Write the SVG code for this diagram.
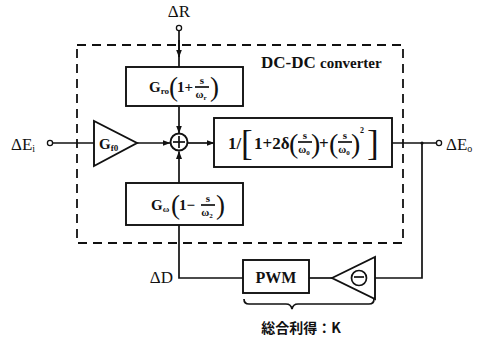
<svg xmlns="http://www.w3.org/2000/svg" width="484" height="339" viewBox="0 0 484 339">
<style>
.ln{fill:none;stroke:#111;stroke-width:1.7}
.bx{fill:#fff;stroke:#111;stroke-width:1.9}
.dash{fill:none;stroke:#111;stroke-width:1.8;stroke-dasharray:9,6}
.t{font-family:"Liberation Serif","Times New Roman",serif;fill:#111}
.m{font-family:"Liberation Serif","Times New Roman",serif;fill:#111;font-weight:bold}
.j{font-family:"Noto Sans CJK JP","Noto Sans CJK SC",sans-serif;fill:#111;font-weight:bold}
.port{fill:#fff;stroke:#111;stroke-width:1.3}
</style>
<defs>
<marker id="ah" markerWidth="8" markerHeight="6" refX="7.5" refY="3" orient="auto" markerUnits="userSpaceOnUse">
<path d="M0,0 L8,3 L0,6 z" fill="#111"/>
</marker>
</defs>
<rect width="484" height="339" fill="#fff"/>

<g id="boundary">
<rect class="dash" x="77" y="45" width="326" height="198"/>
<text class="t" x="261" y="68" font-size="17" font-weight="bold">DC-DC <tspan font-size="15">converter</tspan></text>
</g>

<g id="connectors">
<line class="ln" x1="179" y1="30.5" x2="179" y2="67"/>
<line class="ln" x1="179" y1="40" x2="179" y2="57" marker-end="url(#ah)"/>
<line class="ln" x1="179" y1="106" x2="179" y2="133" marker-end="url(#ah)"/>
<line class="ln" x1="179" y1="183" x2="179" y2="151.5" marker-end="url(#ah)"/>
<line class="ln" x1="52.5" y1="143" x2="94" y2="143"/>
<line class="ln" x1="137" y1="143" x2="170" y2="143" marker-end="url(#ah)"/>
<line class="ln" x1="188" y1="143" x2="214" y2="143" marker-end="url(#ah)"/>
<line class="ln" x1="392" y1="143" x2="436.5" y2="143"/>
<polyline class="ln" points="422,143 422,278 375,278"/>
<line class="ln" x1="332" y1="278" x2="309" y2="278"/>
<polyline class="ln" points="179,225 179,278 243,278"/>
<circle cx="422" cy="143" r="1.6" fill="#111"/>
</g>

<g id="in-R">
<circle class="port" cx="179" cy="28" r="2.6"/>
<text class="t" x="179" y="17" font-size="17" text-anchor="middle">ΔR</text>
</g>

<g id="in-Ei">
<circle class="port" cx="50" cy="143" r="2.6"/>
<text class="t" x="11" y="150" font-size="17">ΔE<tspan font-size="10" dy="2">i</tspan></text>
</g>

<g id="out-Eo">
<circle class="port" cx="439" cy="143" r="2.6"/>
<text class="t" x="446" y="150" font-size="17">ΔE<tspan font-size="10" dy="2">o</tspan></text>
</g>

<g id="label-D">
<text class="t" x="173" y="283" font-size="17" text-anchor="end">ΔD</text>
</g>

<g id="Gf0">
<polygon class="bx" points="94,121 94,166 137,143"/>
<text class="m" x="99" y="149" font-size="15">G<tspan font-size="9" dy="2">f0</tspan></text>
</g>

<g id="sum">
<circle class="bx" cx="179" cy="142" r="8.5"/>
<line class="ln" x1="173" y1="142" x2="185" y2="142"/>
<line class="ln" x1="179" y1="136" x2="179" y2="148"/>
</g>

<g id="Gr">
<rect class="bx" x="126" y="67" width="117" height="39"/>
<text class="m" x="149" y="92" font-size="15">G<tspan font-size="9" dy="2">ro</tspan></text>
<text class="t" x="169" y="96" font-size="27">(</text>
<text class="m" x="177" y="92" font-size="15">1+</text>
<text class="m" x="202" y="84" font-size="11" text-anchor="middle">s</text>
<line class="ln" x1="195" y1="87" x2="209" y2="87" stroke-width="1"/>
<text class="m" x="201" y="98" font-size="11" text-anchor="middle">ω<tspan font-size="7" dy="1.5">r</tspan></text>
<text class="t" x="210" y="96" font-size="27">)</text>
</g>

<g id="Gw">
<rect class="bx" x="126" y="183" width="117" height="42"/>
<text class="m" x="151" y="210" font-size="15">G<tspan font-size="9" dy="2">ω</tspan></text>
<text class="t" x="171" y="214" font-size="27">(</text>
<text class="m" x="179" y="210" font-size="15">1−</text>
<text class="m" x="208" y="202" font-size="11" text-anchor="middle">s</text>
<line class="ln" x1="201" y1="205" x2="215" y2="205" stroke-width="1"/>
<text class="m" x="207" y="216" font-size="11" text-anchor="middle">ω<tspan font-size="7" dy="1.5">2</tspan></text>
<text class="t" x="216" y="214" font-size="27">)</text>
</g>

<g id="plant">
<rect class="bx" x="214" y="118" width="178" height="49"/>
<text class="m" x="228" y="149" font-size="17">1/</text>
<text class="t" x="241" y="155" font-size="35">[</text>
<text class="m" x="254" y="149" font-size="17">1+2δ</text>
<text class="t" x="289" y="153" font-size="28">(</text>
<text class="m" x="305" y="139" font-size="11" text-anchor="middle">s</text>
<line class="ln" x1="298" y1="142" x2="312" y2="142" stroke-width="1"/>
<text class="m" x="304" y="153" font-size="11" text-anchor="middle">ω<tspan font-size="7" dy="1.5">0</tspan></text>
<text class="t" x="311" y="153" font-size="28">)</text>
<text class="m" x="319" y="149" font-size="17">+</text>
<text class="t" x="329" y="153" font-size="28">(</text>
<text class="m" x="345" y="139" font-size="11" text-anchor="middle">s</text>
<line class="ln" x1="338" y1="142" x2="352" y2="142" stroke-width="1"/>
<text class="m" x="344" y="153" font-size="11" text-anchor="middle">ω<tspan font-size="7" dy="1.5">0</tspan></text>
<text class="t" x="351" y="153" font-size="28">)</text>
<text class="m" x="360" y="133" font-size="8">2</text>
<text class="t" x="367" y="155" font-size="35">]</text>
</g>

<g id="PWM">
<rect class="bx" x="243" y="260" width="66" height="33"/>
<text class="m" x="276" y="283" font-size="16" text-anchor="middle">PWM</text>
</g>

<g id="inverter">
<polygon class="bx" points="332,278 375,257 375,299"/>
<circle class="ln" cx="359" cy="278" r="7.5"/>
<line class="ln" x1="354" y1="277" x2="364" y2="277"/>
</g>

<g id="gain-K">
<path class="ln" stroke-width="1.3" d="M244,299 q0,5 5,5 H286 q5,0 6,5 q1,-5 6,-5 H369 q5,0 5,-5"/>
<text class="j" x="301" y="333" font-size="14" text-anchor="middle">総合利得：K</text>
</g>
</svg>
